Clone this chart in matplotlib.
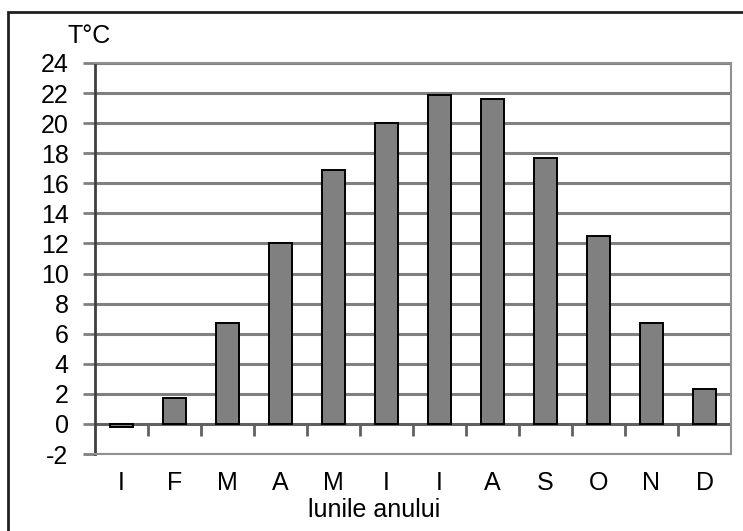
import matplotlib.pyplot as plt
from matplotlib.patches import Rectangle

luni = ['I', 'F', 'M', 'A', 'M', 'I', 'I', 'A', 'S', 'O', 'N', 'D']
temp = [-0.2, 1.7, 6.7, 12.0, 16.9, 20.0, 21.9, 21.6, 17.7, 12.5, 6.7, 2.3]
yticks = list(range(-2, 25, 2))

plt.rcParams['font.family'] = ['Liberation Sans Narrow', 'Liberation Sans', 'DejaVu Sans']

fig = plt.figure(figsize=(7.43, 5.31), dpi=100)
ax = fig.add_axes([95/743, 1-454/531, 636/743, 391/531])

x = list(range(len(luni)))
ax.bar(x, temp, width=0.43, color='#808080', edgecolor='black', linewidth=1.4, zorder=3)

ax.set_xlim(-0.5, len(luni) - 0.5)
ax.set_ylim(-2, 24)
ax.set_yticks(yticks)
ax.set_yticklabels([str(v) for v in yticks], fontsize=18)
ax.yaxis.grid(True, color='#808080', linewidth=2.2, zorder=0)
ax.set_axisbelow(True)

# axa orizontala la 0 cu liniute intre luni
ax.axhline(0, color='#606060', linewidth=2, zorder=2)
ax.vlines([i + 0.5 for i in x], -0.8, 0, color='#606060', linewidth=2, zorder=2)

ax.set_xticks(x)
ax.set_xticklabels(luni, fontsize=18)
ax.tick_params(axis='x', length=0, pad=12)
ax.tick_params(axis='y', length=9, width=2, color='#808080', pad=10)

for s in ['top', 'right', 'bottom']:
    ax.spines[s].set_color('#909090')
    ax.spines[s].set_linewidth(1.5)
ax.spines['left'].set_color('#404040')
ax.spines['left'].set_linewidth(2)

fig.text(68/743, 1-36/531, 'T°C', fontsize=18, va='center', ha='left')
fig.text(374/743, 1-510/531, 'lunile anului', fontsize=18, va='center', ha='center')
fig.text(-0.06, 0.992, 'Figura 2.', fontsize=16, fontweight='bold', va='bottom', ha='left')

fig.patches.append(Rectangle((8/743, -0.05), 1.0, 1-12/531+0.05, transform=fig.transFigure,
                             fill=False, edgecolor='#202020', linewidth=2))

fig.savefig('out.png', dpi=100)
